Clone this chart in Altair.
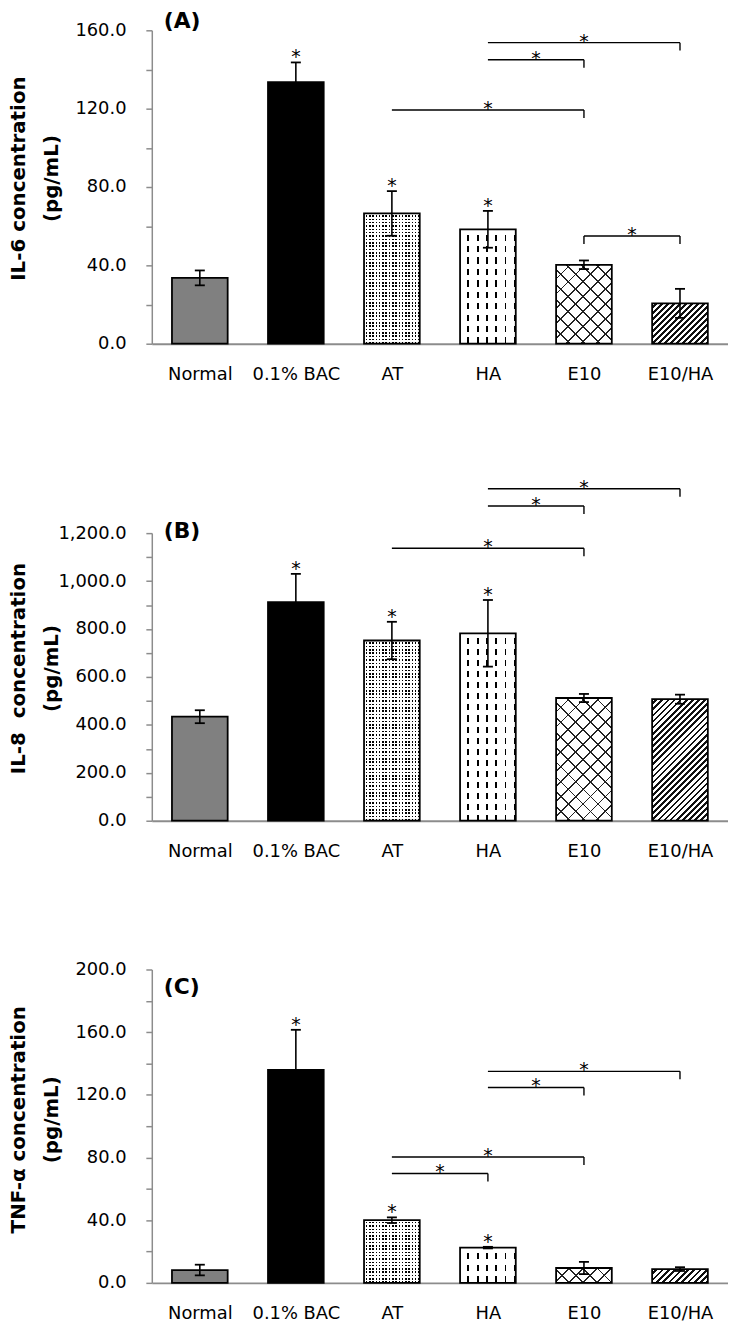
import json
import math
import altair as alt
import pandas as pd

# ---------------- data ----------------
categories = ["Normal", "0.1% BAC", "AT", "HA", "E10", "E10/HA"]

il6_mean = [33.6, 133.5, 66.5, 58.4, 40.3, 20.6]
il6_err = [3.8, 10.1, 11.4, 9.4, 2.2, 7.4]
il6_star = [0, 1, 1, 1, 0, 0]
il6_br_from = ["AT", "HA", "HA", "E10"]
il6_br_to = ["E10", "E10", "E10/HA", "E10/HA"]
il6_br_y = [119.3, 145.0, 153.7, 55.0]
il6_br_leftleg = [False, False, False, True]

il8_mean = [434, 912, 752, 782, 512, 507]
il8_err = [27, 118, 78, 139, 17, 19]
il8_star = [0, 1, 1, 1, 0, 0]
il8_br_from = ["AT", "HA", "HA"]
il8_br_to = ["E10", "E10", "E10/HA"]
il8_br_y = [1137, 1313, 1385]
il8_br_leftleg = [False, False, False]

tnf_mean = [8.2, 136.0, 40.0, 22.5, 9.5, 8.8]
tnf_err = [3.4, 25.5, 1.8, 0.5, 3.9, 1.2]
tnf_star = [0, 1, 1, 1, 0, 0]
tnf_br_from = ["HA", "HA", "AT", "AT"]
tnf_br_to = ["E10/HA", "E10", "E10", "HA"]
tnf_br_y = [135.0, 124.7, 80.3, 69.8]
tnf_br_leftleg = [False, False, False, False]

# ---------------- style ----------------
FONT = "DejaVu Sans"
AXC = "#8c8c8c"
PLOT_W = 581
BAR_HALF = 0.29
CAP_HALF = 0.052
LEG_PX = 8
BAR_W_PX = 2 * BAR_HALF * PLOT_W / 6
CLEAR = "rgba(255,255,255,0)"


def stops(n, on_frac, on, off):
    out = []
    for i in range(n):
        a = i / n
        m = (i + 1 - on_frac) / n
        b = (i + 1) / n
        out += [{"offset": round(a, 5), "color": off},
                {"offset": round(m, 5), "color": off},
                {"offset": round(m, 5), "color": on},
                {"offset": round(b, 5), "color": on}]
    return out


def grad(x1, y1, x2, y2, st):
    return {"gradient": "linear", "x1": x1, "y1": y1, "x2": x2, "y2": y2, "stops": st}


def vstripes(w, period, on_w, on, off):
    n = max(1, round(w / period))
    return grad(0, 0, 1, 0, stops(n, on_w / period, on, off))


def hstripes(h, period, on_w, on, off):
    n = max(1, round(h / period))
    return grad(0, 0, 0, 1, stops(n, on_w / period, on, off))


def diag(w, h, period, on_w, on, off, up=True):
    r = h / w
    a = (1 + r) / (1 + r * r)
    n = max(1, round((w + h) / (math.sqrt(2) * period)))
    st = stops(n, on_w / period, on, off)
    if up:
        return grad(0, 0, a, a * r, st)
    return grad(0, 1, a, 1 - a * r, st)


def fills(i, w, h):
    """base fill and optional overlay fill for category i"""
    if i == 0:
        return "#808080", None
    if i == 1:
        return "#000000", None
    if i == 2:
        return (vstripes(w, 3.4, 1.6, "#000000", "#ffffff"),
                hstripes(h, 3.4, 1.6, CLEAR, "#ffffff"))
    if i == 3:
        return (vstripes(w, 9.0, 1.8, "#000000", "#ffffff"),
                hstripes(h, 11.0, 6.0, CLEAR, "#ffffff"))
    if i == 4:
        return (diag(w, h, 11.0, 1.3, "#222222", "#ffffff", up=True),
                diag(w, h, 11.0, 1.3, "#222222", CLEAR, up=False))
    return diag(w, h, 4.4, 1.9, "#111111", "#ffffff", up=True), None


def panel(mean, err, star, br_from, br_to, br_y, br_left, title, label,
          ymax, tstep, lstep, fmt, view_h, axis_top, title_y, label_y):
    axis_h = view_h - axis_top
    df = pd.DataFrame({"cat": categories, "idx": list(range(6)),
                       "mean": mean, "err": err, "star": star})
    xs = alt.Scale(domain=[-0.5, 5.5], nice=False, zero=False)
    ys = alt.Scale(domain=[0, ymax], nice=False, zero=True, range=[view_h, axis_top])
    x_axis = alt.Axis(values=list(range(6)),
                      labelExpr=json.dumps(categories) + "[datum.value]",
                      title=None, ticks=False, grid=False, domainColor=AXC,
                      domainWidth=2, labelFont=FONT, labelFontSize=18,
                      labelColor="black", labelPadding=22, labelAngle=0,
                      labelOverlap=False)
    y_axis = alt.Axis(values=list(range(0, ymax + tstep, tstep)),
                      labelExpr=f"datum.value % {lstep} == 0 ? format(datum.value, '{fmt}') : ''",
                      title=title, titleFont=FONT, titleFontSize=20,
                      titleFontWeight="bold", titleColor="black",
                      titleAngle=270, titleAlign="center",
                      titleBaseline="alphabetic", titleLineHeight=33,
                      titleX=-128, titleY=title_y,
                      grid=False, domainColor=AXC, domainWidth=1.5,
                      tickColor=AXC, tickWidth=1.5, tickSize=6,
                      labelFont=FONT, labelFontSize=18, labelColor="black",
                      labelPadding=20, labelOverlap=False)

    def X(f):
        return alt.X(f, scale=xs, axis=x_axis)

    def Y(f):
        return alt.Y(f, scale=ys, axis=y_axis)

    base = alt.Chart(df).transform_calculate(
        x0=f"datum.idx - {BAR_HALF}", x1=f"datum.idx + {BAR_HALF}", zero="0",
        lo="datum.mean - datum.err", hi="datum.mean + datum.err",
        cl=f"datum.idx - {CAP_HALF}", cr=f"datum.idx + {CAP_HALF}")

    layers = []
    for i in range(6):
        h = mean[i] / ymax * axis_h
        f0, f1 = fills(i, BAR_W_PX, h)
        sub = base.transform_filter(f"datum.idx == {i}")
        layers.append(sub.mark_bar(fill=f0, strokeWidth=0).encode(
            x=X("x0:Q"), x2="x1:Q", y=Y("mean:Q"), y2="zero:Q"))
        if f1 is not None:
            layers.append(sub.mark_bar(fill=f1, strokeWidth=0).encode(
                x=X("x0:Q"), x2="x1:Q", y=Y("mean:Q"), y2="zero:Q"))
    layers.append(base.mark_bar(filled=False, stroke="black", strokeWidth=1.8).encode(
        x=X("x0:Q"), x2="x1:Q", y=Y("mean:Q"), y2="zero:Q"))
    # error bars
    layers.append(base.mark_rule(color="black", strokeWidth=1.6).encode(
        x=X("idx:Q"), y=Y("lo:Q"), y2="hi:Q"))
    layers.append(base.mark_rule(color="black", strokeWidth=1.8).encode(
        x=X("cl:Q"), x2="cr:Q", y=Y("hi:Q")))
    layers.append(base.mark_rule(color="black", strokeWidth=1.8).encode(
        x=X("cl:Q"), x2="cr:Q", y=Y("lo:Q")))
    # significance stars over bars
    layers.append(base.transform_filter("datum.star == 1").mark_text(
        text="*", font=FONT, fontSize=19, color="black", baseline="alphabetic",
        dy=1).encode(x=X("idx:Q"), y=Y("hi:Q")))

    # brackets
    ia = [categories.index(c) for c in br_from]
    ib = [categories.index(c) for c in br_to]
    leg = LEG_PX / axis_h * ymax
    bdf = pd.DataFrame({"xa": ia, "xb": ib, "y": br_y,
                        "xm": [(a + b) / 2 for a, b in zip(ia, ib)]})
    lx, ly, ly2 = [], [], []
    for a, b, yv, lf in zip(ia, ib, br_y, br_left):
        lx.append(b); ly.append(yv); ly2.append(yv - leg)
        if lf:
            lx.append(a); ly.append(yv); ly2.append(yv - leg)
    ldf = pd.DataFrame({"x": lx, "y": ly, "y2": ly2})
    layers.append(alt.Chart(bdf).mark_rule(color="black", strokeWidth=1.4).encode(
        x=X("xa:Q"), x2="xb:Q", y=Y("y:Q")))
    layers.append(alt.Chart(ldf).mark_rule(color="black", strokeWidth=1.4).encode(
        x=X("x:Q"), y=Y("y:Q"), y2="y2:Q"))
    layers.append(alt.Chart(bdf).mark_text(
        text="*", font=FONT, fontSize=19, color="black", baseline="alphabetic",
        dy=5).encode(x=X("xm:Q"), y=Y("y:Q")))
    # panel letter
    layers.append(alt.Chart(pd.DataFrame({"lab": [label]})).mark_text(
        font=FONT, fontSize=22, fontWeight="bold", color="black",
        align="left", baseline="middle").encode(
        text="lab:N", x=alt.value(12), y=alt.value(label_y)))

    return alt.layer(*layers).properties(width=PLOT_W, height=view_h)


pA = panel(il6_mean, il6_err, il6_star, il6_br_from, il6_br_to, il6_br_y, il6_br_leftleg,
           ["IL-6 concentration", "(pg/mL)"], "(A)", 160, 20, 40, ".1f",
           339, 23, 172, 14)
pB = panel(il8_mean, il8_err, il8_star, il8_br_from, il8_br_to, il8_br_y, il8_br_leftleg,
           ["IL-8\u00a0 concentration", "(pg/mL)"], "(B)", 1200, 100, 200, ",.1f",
           331, 41, 177, 38.5)
pC = panel(tnf_mean, tnf_err, tnf_star, tnf_br_from, tnf_br_to, tnf_br_y, tnf_br_leftleg,
           ["TNF-\u03b1 concentration", "(pg/mL)"], "(C)", 200, 20, 40, ".1f",
           316, 0, 151, 18)

chart = alt.vconcat(pA, pB, pC, spacing=150, bounds="flush").resolve_scale(
    x="independent", y="independent").configure_view(stroke=None).properties(
    padding={"left": 1, "top": -6, "right": 0, "bottom": 0})

chart.save("out.html", embed_options={"renderer": "svg", "actions": False})
